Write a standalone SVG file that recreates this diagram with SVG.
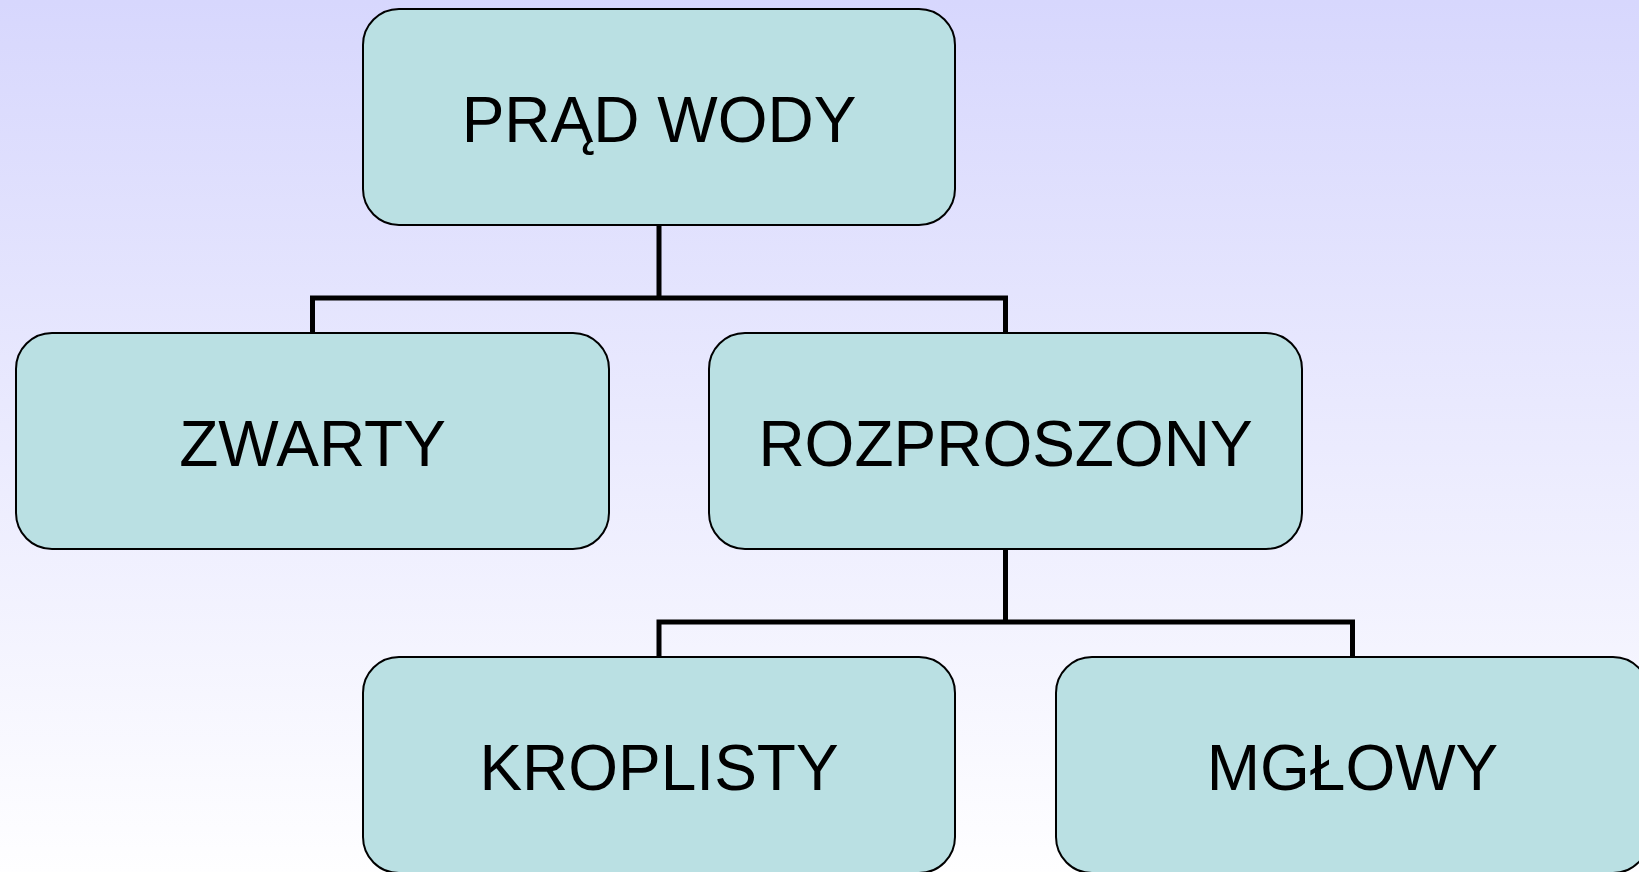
<svg xmlns="http://www.w3.org/2000/svg" width="1639" height="872" viewBox="0 0 1639 872">
<defs>
<linearGradient id="bg" x1="0" y1="0" x2="0" y2="1">
<stop offset="0" stop-color="#D7D7FD"/>
<stop offset="1" stop-color="#FEFEFF"/>
</linearGradient>
</defs>
<style>
.box{fill:#BAE0E3;stroke:#000;stroke-width:2}
.lbl{font-family:"Liberation Sans",Arial,sans-serif;font-size:64px;fill:#000;text-anchor:middle}
.con{fill:none;stroke:#000;stroke-width:5;stroke-linecap:square}
</style>
<rect x="0" y="0" width="1639" height="872" fill="url(#bg)"/>
<g id="connectors">
<path class="con" d="M659 225V298M312.5 333V298H1005.5V333"/>
<path class="con" d="M1005.5 549V622M659 657V622H1352.5V657"/>
</g>
<g id="prad-wody">
<rect class="box" x="363" y="9" width="592" height="216" rx="36"/>
<text class="lbl" x="659" y="142">PRĄD WODY</text>
</g>
<g id="zwarty">
<rect class="box" x="16" y="333" width="593" height="216" rx="36"/>
<text class="lbl" x="312.5" y="466">ZWARTY</text>
</g>
<g id="rozproszony">
<rect class="box" x="709" y="333" width="593" height="216" rx="36"/>
<text class="lbl" x="1005.5" y="466">ROZPROSZONY</text>
</g>
<g id="kroplisty">
<rect class="box" x="363" y="657" width="592" height="216" rx="36"/>
<text class="lbl" x="659" y="790">KROPLISTY</text>
</g>
<g id="mglowy">
<rect class="box" x="1056" y="657" width="593" height="216" rx="36"/>
<text class="lbl" x="1352.5" y="790">MGŁOWY</text>
</g>
</svg>
